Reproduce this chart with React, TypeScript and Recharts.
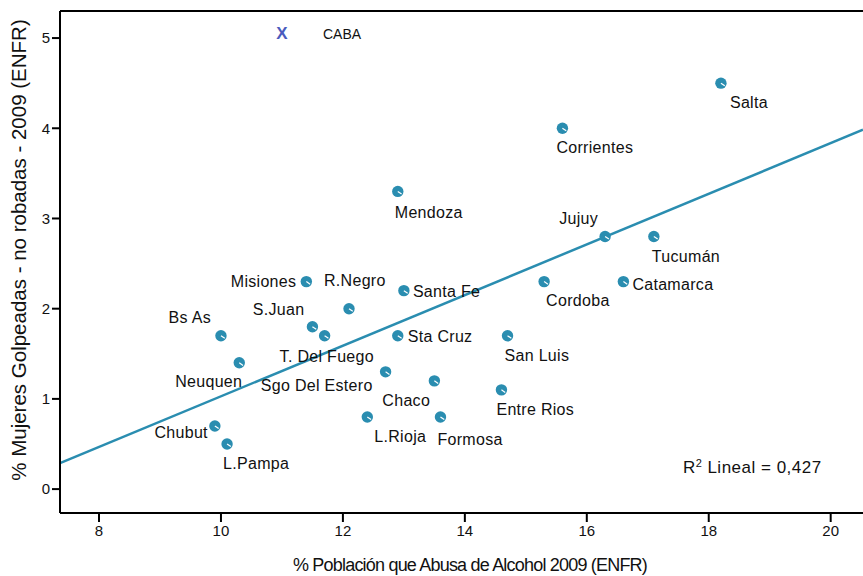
import React from "react";
import { ScatterChart, Scatter, XAxis, YAxis, ReferenceLine } from "recharts";

// Provinces: name, % alcohol abuse (x), % battered women (y)
const provinces = [
  "Salta", "Corrientes", "Mendoza", "Jujuy", "Tucumán", "Misiones", "R.Negro",
  "Santa Fe", "Cordoba", "Catamarca", "Bs As", "S.Juan", "T. Del Fuego",
  "Sta Cruz", "San Luis", "Neuquen", "Sgo Del Estero", "Chaco", "Entre Rios",
  "L.Rioja", "Formosa", "Chubut", "L.Pampa",
];
const alcoholValues = [
  18.2, 15.6, 12.9, 16.3, 17.1, 11.4, 12.1, 13.0, 15.3, 16.6, 10.0, 11.5, 11.7,
  12.9, 14.7, 10.3, 12.7, 13.5, 14.6, 12.4, 13.6, 9.9, 10.1,
];
const womenValues = [
  4.5, 4.0, 3.3, 2.8, 2.8, 2.3, 2.0, 2.2, 2.3, 2.3, 1.7, 1.8, 1.7,
  1.7, 1.7, 1.4, 1.3, 1.2, 1.1, 0.8, 0.8, 0.7, 0.5,
];

// Outlier (CABA)
const outlierName = "CABA";
const outlierX = 11.0;
const outlierY = 5.05;

// Linear fit
const fitIntercept = -1.777;
const fitSlope = 0.2806;
const rSquared = "0,427";

const xTicks = [8, 10, 12, 14, 16, 18, 20];
const yTicks = [0, 1, 2, 3, 4, 5];
const xDomain: [number, number] = [7.36, 20.53];
const yDomain: [number, number] = [-0.265, 5.3];

const pointData = provinces.map((name, i) => ({
  name,
  x: alcoholValues[i],
  y: womenValues[i],
}));
const outlierData = [{ name: outlierName, x: outlierX, y: outlierY }];

// label placement: [dx, dy, anchor]
const labelPlacement: Record<string, [number, number, string]> = {
  Salta: [9, 19, "start"],
  Corrientes: [-6, 19, "start"],
  Mendoza: [-3, 21, "start"],
  Jujuy: [-7, -18, "end"],
  "Tucumán": [-2, 20, "start"],
  Misiones: [-10, 0, "end"],
  "R.Negro": [-25, -28, "start"],
  "Santa Fe": [9, 1, "start"],
  Cordoba: [2, 19, "start"],
  Catamarca: [9, 3, "start"],
  "Bs As": [-10, -18, "end"],
  "S.Juan": [-8, -17, "end"],
  "T. Del Fuego": [-45, 21, "start"],
  "Sta Cruz": [10, 1, "start"],
  "San Luis": [-3, 20, "start"],
  Neuquen: [3, 19, "end"],
  "Sgo Del Estero": [-13, 14, "end"],
  Chaco: [-52, 20, "start"],
  "Entre Rios": [-5, 20, "start"],
  "L.Rioja": [7, 20, "start"],
  Formosa: [-3, 23, "start"],
  Chubut: [-7, 7, "end"],
  "L.Pampa": [-4, 20, "start"],
};

const POINT_COLOR = "#2a8db0";
const LINE_COLOR = "#2a8db0";
const FONT = "'Liberation Sans', Arial, sans-serif";

const PointShape = (props: any) => {
  const { cx, cy, payload } = props;
  const p = labelPlacement[payload.name] || [8, 0, "start"];
  return (
    <g>
      <circle cx={cx} cy={cy} r={5.7} fill={POINT_COLOR} />
      <line x1={cx} y1={cy} x2={cx + 3.8} y2={cy + 2.6} stroke="#ffffff" strokeWidth={1.2} />
      <text
        x={cx + p[0]}
        y={cy + p[1]}
        textAnchor={p[2] as any}
        dominantBaseline="central"
        fontFamily={FONT}
        fontSize={16}
        letterSpacing={0.3}
        fill="#111"
      >
        {payload.name}
      </text>
    </g>
  );
};

const OutlierShape = (props: any) => {
  const { cx, cy, payload } = props;
  return (
    <g>
      <text
        x={cx}
        y={cy}
        textAnchor="middle"
        dominantBaseline="central"
        fontFamily={FONT}
        fontSize={17}
        fontWeight="bold"
        fill="#4a5bbd"
      >
        X
      </text>
      <text
        x={cx + 41}
        y={cy}
        textAnchor="start"
        dominantBaseline="central"
        fontFamily={FONT}
        fontSize={14}
        fill="#111"
      >
        {payload.name}
      </text>
    </g>
  );
};

const tickStyle = { fontFamily: FONT, fontSize: 15, fill: "#111" };

export default function App() {
  const x0 = xDomain[0];
  const x1 = xDomain[1];
  return (
    <div style={{ position: "absolute", left: 0, top: 0, width: 863, height: 576, background: "#fff" }}>
      <ScatterChart
        width={863}
        height={576}
        margin={{ top: 11, right: 0, bottom: 0, left: 0 }}
      >
        <XAxis
          type="number"
          dataKey="x"
          domain={xDomain}
          ticks={xTicks}
          allowDataOverflow
          height={63}
          tick={tickStyle}
          tickSize={9}
          tickMargin={3}
          axisLine={{ stroke: "#000", strokeWidth: 2 }}
          tickLine={{ stroke: "#000", strokeWidth: 2 }}
        />
        <YAxis
          type="number"
          dataKey="y"
          domain={yDomain}
          ticks={yTicks}
          allowDataOverflow
          width={60}
          tick={tickStyle}
          tickSize={8}
          tickMargin={2}
          axisLine={{ stroke: "#000", strokeWidth: 2 }}
          tickLine={{ stroke: "#000", strokeWidth: 2 }}
        />
        <ReferenceLine y={yDomain[1]} stroke="#000" strokeWidth={2} ifOverflow="visible" />
        <ReferenceLine
          segment={[
            { x: x0, y: fitIntercept + fitSlope * x0 },
            { x: x1, y: fitIntercept + fitSlope * x1 },
          ]}
          stroke={LINE_COLOR}
          strokeWidth={2.5}
          ifOverflow="visible"
        />
        <Scatter data={pointData} shape={PointShape} isAnimationActive={false} />
        <Scatter data={outlierData} shape={OutlierShape} isAnimationActive={false} />
      </ScatterChart>
      <svg
        width={863}
        height={576}
        style={{ position: "absolute", left: 0, top: 0, pointerEvents: "none" }}
      >
        <text
          x={470}
          y={565}
          textAnchor="middle"
          dominantBaseline="central"
          fontFamily={FONT}
          fontSize={18}
          letterSpacing={-0.8}
          fill="#111"
        >
          % Población que Abusa de Alcohol 2009 (ENFR)
        </text>
        <text
          x={18}
          y={250}
          transform="rotate(-90 18 250)"
          textAnchor="middle"
          dominantBaseline="central"
          fontFamily={FONT}
          fontSize={20.5}
          fill="#111"
        >
          % Mujeres Golpeadas - no robadas - 2009 (ENFR)
        </text>
        <text x={683} y={473} fontFamily={FONT} fontSize={17} letterSpacing={0.5} fill="#111">
          R<tspan dy={-6} fontSize={11}>2</tspan>
          <tspan dy={6} dx={5}>Lineal = {rSquared}</tspan>
        </text>
      </svg>
    </div>
  );
}
